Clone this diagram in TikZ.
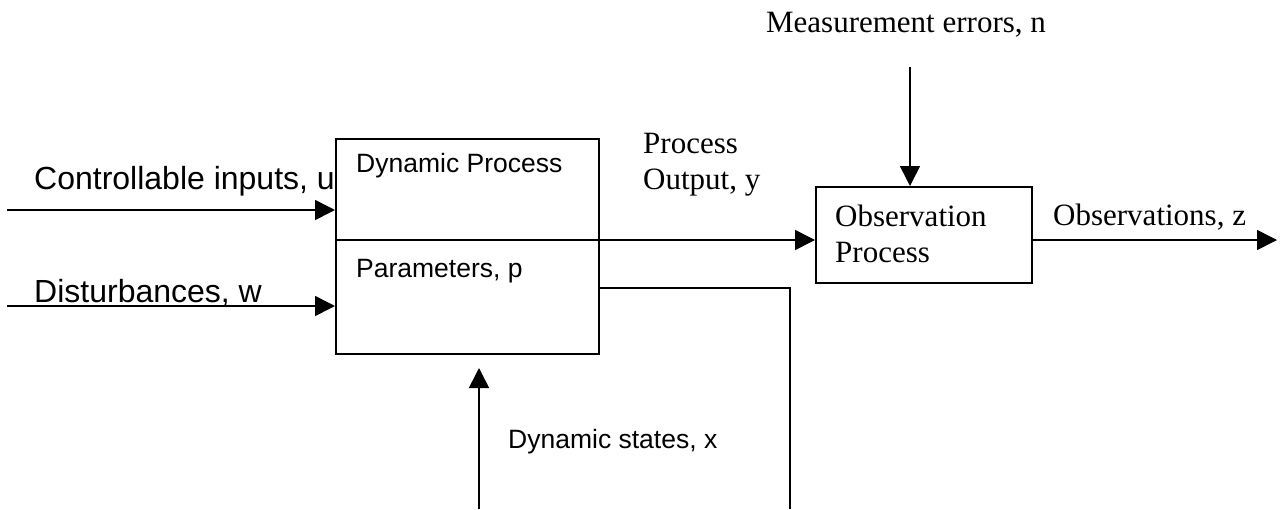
\documentclass[tikz,border=0pt]{standalone}
\usepackage{fontspec}
\setmainfont{Liberation Serif}
\newfontfamily\arialfont{Liberation Sans}
\usetikzlibrary{arrows.meta}
\tikzset{
  wire/.style={line width=1.6pt},
  arr/.style={wire, -{Triangle[length=20pt,width=20pt]}},
  blockbox/.style={draw, line width=1.6pt, fill=white, inner sep=0pt, anchor=north west},
  sanslabel/.style={font=\arialfont\fontsize{32}{36}\selectfont, anchor=west, inner sep=0pt},
  smallsans/.style={font=\arialfont\fontsize{26.5}{30}\selectfont, anchor=west, inner sep=0pt},
  seriflabel/.style={font=\fontsize{31}{36}\selectfont, anchor=west, inner sep=0pt},
}
\begin{document}
\begin{tikzpicture}[x=1pt,y=-1pt]
\useasboundingbox[fill=white] (0,0) rectangle (1280,509);

% input labels (partly covered by the process block)
\node[sanslabel] (lu) at (34,181) {Controllable inputs, u};
\node[sanslabel] (lw) at (34,293) {Disturbances, w};

% dynamic process block with its parameter section
\node[blockbox, minimum width=263pt, minimum height=215pt] (dp) at (335,138) {};
\coordinate (div) at (0,240);
\coordinate (par) at (0,288);
\draw[wire] (dp.west |- div) -- (dp.east |- div);
\node[smallsans] (tdp) at (356,166) {Dynamic Process};
\node[smallsans] (tpar) at (356,271) {Parameters, p};

% observation block
\node[blockbox, minimum width=216pt, minimum height=96pt] (ob) at (815,186) {};
\node[seriflabel, align=left, anchor=north west] (tob) at (835,205) {Observation\\Process};

% input sources and free ends
\coordinate (su) at (7,210);
\coordinate (sw) at (7,306);
\coordinate (sn) at (910,67);
\coordinate (zend) at (1277,240);
\coordinate (xbot) at (479,509);
\coordinate (pbot) at (790,509);
\coordinate (xtip) at (479,368);

% connectors
\draw[arr] (su) -- (dp.west |- su);
\draw[arr] (sw) -- (dp.west |- sw);
\draw[arr] (dp.east |- div) -- (ob.west |- div);
\draw[arr] (sn) -- (ob.north -| sn);
\draw[arr] (ob.east |- div) -- (zend);
\draw[wire] (dp.east |- par) -| (pbot);
\draw[arr] (xbot) -- (xtip);

% signal labels
\node[seriflabel, anchor=center] (tn) at (906,25) {Measurement errors, n};
\node[seriflabel, align=left, anchor=north west] (ty) at (643,133) {Process\\Output, y};
\node[seriflabel] (tz) at (1053,217) {Observations, z};
\node[smallsans] (tx) at (508,442) {Dynamic states, x};
\end{tikzpicture}
\end{document}
